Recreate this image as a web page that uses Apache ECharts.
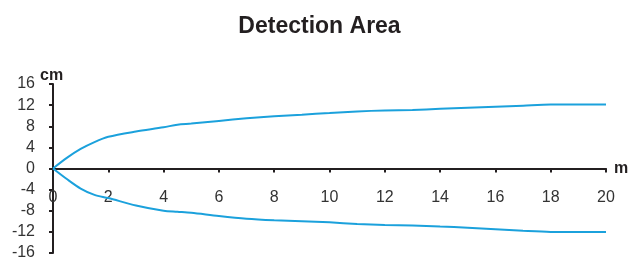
<!DOCTYPE html>
<html>
<head>
<meta charset="utf-8">
<script src="https://cdn.jsdelivr.net/npm/echarts@6/dist/echarts.min.js"></script>
<style>
  html, body { margin: 0; padding: 0; background: #fff; }
  #chart { width: 639px; height: 263px; }
</style>
</head>
<body>
<div id="chart"></div>
<script>
// distance (m) and half-width of the detection area (cm)
var distance = [0, 0.5, 1, 1.5, 2, 3, 4, 4.5, 5, 6, 7, 8, 9, 10, 11, 12, 13, 14, 15, 16, 17, 18, 19, 20];
var upper = [0, 2.0, 3.7, 5.0, 6.0, 7.0, 7.8, 8.3, 8.5, 9.0, 9.5, 9.9, 10.2, 10.5, 10.8, 11.0, 11.1, 11.3, 11.5, 11.7, 11.9, 12.1, 12.1, 12.1];
var lower = [0, -2.0, -3.8, -5.0, -5.6, -7.0, -8.0, -8.2, -8.4, -9.0, -9.5, -9.8, -10.0, -10.2, -10.5, -10.7, -10.8, -11.0, -11.2, -11.5, -11.8, -12.0, -12.0, -12.0];

function pairs(ys) {
    var out = [];
    for (var i = 0; i < distance.length; i++) out.push([distance[i], ys[i]]);
    return out;
}

var myChart = echarts.init(document.getElementById('chart'));

var gridTop = 84, gridBottom = 10;
var gridHeight = 263 - gridTop - gridBottom;
var lineStyle = { color: '#1ba1dc', width: 2 };
var axisFont = { fontFamily: 'Liberation Sans, Arial, sans-serif', fontSize: 16, color: '#333' };
var nameFont = { fontFamily: 'Liberation Sans, Arial, sans-serif', fontWeight: 'bold', fontSize: 16, color: '#231f20' };

var option = {
    animation: false,
    title: {
        text: 'Detection Area',
        left: 'center',
        top: 10,
        textStyle: { fontFamily: 'Liberation Sans Narrow, Liberation Sans, sans-serif', fontWeight: 'bold', fontSize: 23, color: '#231f20' }
    },
    grid: { left: 53, right: 33, top: gridTop, bottom: gridBottom, outerBoundsMode: 'none' },
    xAxis: {
        type: 'value',
        min: 0, max: 20, interval: 2,
        // put the axis (line, ticks, labels) through y = 0
        offset: -gridHeight / 2,
        name: 'm',
        nameGap: 8,
        nameMoveOverlap: false,
        nameTextStyle: Object.assign({ verticalAlign: 'middle' }, nameFont),
        axisLine: { onZero: false, lineStyle: { color: '#231f20', width: 2 } },
        axisTick: { show: true, length: 4, lineStyle: { color: '#231f20', width: 2 } },
        axisLabel: Object.assign({ margin: 21 }, axisFont),
        splitLine: { show: false }
    },
    yAxis: {
        type: 'value',
        min: -16, max: 16, interval: 4,
        name: 'cm',
        nameGap: 8,
        nameMoveOverlap: false,
        nameTextStyle: Object.assign({ align: 'left', verticalAlign: 'middle', padding: [0, 0, 0, -13] }, nameFont),
        axisLine: { onZero: false, lineStyle: { color: '#231f20', width: 2 } },
        axisTick: { show: true, length: 4, lineStyle: { color: '#231f20', width: 2 } },
        axisLabel: Object.assign({ margin: 18 }, axisFont),
        splitLine: { show: false }
    },
    series: [
        { type: 'line', data: pairs(upper), smooth: 0.3, showSymbol: false, lineStyle: lineStyle },
        { type: 'line', data: pairs(lower), smooth: 0.3, showSymbol: false, lineStyle: lineStyle }
    ]
};
myChart.setOption(option);
</script>
</body>
</html>
